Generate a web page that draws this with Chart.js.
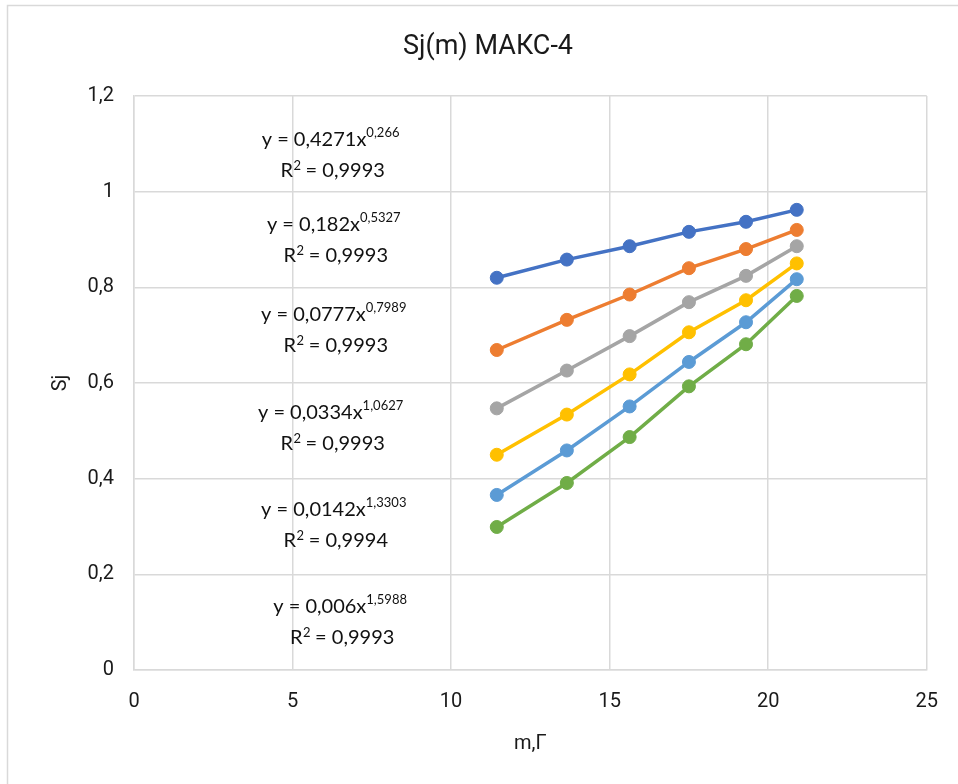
<!DOCTYPE html>
<html>
<head>
<meta charset="utf-8">
<script src="https://cdn.jsdelivr.net/npm/chart.js@4.4.1/dist/chart.umd.min.js"></script>
<style>
  html, body { margin: 0; padding: 0; background: #ffffff; }
  #wrap { width: 958px; height: 784px; position: relative; }
</style>
</head>
<body>
<div id="wrap"><canvas id="c" width="958" height="784"></canvas></div>
<script>
// ---- data ----
const masses = [11.44, 13.65, 15.63, 17.5, 19.3, 20.9];
const series1 = [0.820, 0.858, 0.886, 0.916, 0.937, 0.962];
const series2 = [0.669, 0.732, 0.785, 0.840, 0.880, 0.920];
const series3 = [0.547, 0.626, 0.698, 0.769, 0.824, 0.886];
const series4 = [0.450, 0.534, 0.618, 0.706, 0.773, 0.850];
const series5 = [0.366, 0.459, 0.551, 0.644, 0.727, 0.817];
const series6 = [0.299, 0.391, 0.487, 0.593, 0.681, 0.782];
const seriesColors = ['#4472C4', '#ED7D31', '#A5A5A5', '#FFC000', '#5B9BD5', '#70AD47'];

const chartTitle = 'Sj(m) МАКС-4';
const xAxisTitle = 'm,Г';
const yAxisTitle = 'Sj';

// trendline equation labels: coefficient text, exponent text, R² text
const eqCoef = ['0,4271', '0,182', '0,0777', '0,0334', '0,0142', '0,006'];
const eqExp = ['0,266', '0,5327', '0,7989', '1,0627', '1,3303', '1,5988'];
const eqR2 = ['0,9993', '0,9993', '0,9993', '0,9993', '0,9994', '0,9993'];
// label anchors in data units (centre of the equation line)
const eqAnchorX = [6.2, 6.3, 6.3, 6.2, 6.3, 6.5];
const eqAnchorY = [1.110, 0.932, 0.744, 0.539, 0.336, 0.133];

const allSeries = [series1, series2, series3, series4, series5, series6];

const datasets = allSeries.map((s, i) => ({
  label: 'S' + (i + 1),
  data: masses.map((m, k) => ({ x: m, y: s[k] })),
  borderColor: seriesColors[i],
  backgroundColor: seriesColors[i],
  borderWidth: 3.5,
  pointRadius: 6.5,
  pointHoverRadius: 6.5,
  pointBorderWidth: 1,
  pointBackgroundColor: seriesColors[i],
  pointBorderColor: seriesColors[i],
  tension: 0,
  fill: false
}));

const frameAndText = {
  id: 'frameAndText',
  beforeDraw(chart) {
    const ctx = chart.ctx;
    ctx.save();
    ctx.fillStyle = '#ffffff';
    ctx.fillRect(0, 0, chart.width, chart.height);
    ctx.strokeStyle = '#d9d9d9';
    ctx.lineWidth = 1.5;
    ctx.strokeRect(7.5, 5.5, 1200, 1200);
    // title
    ctx.fillStyle = '#1a1a1a';
    ctx.font = '27px Roboto';
    ctx.textAlign = 'center';
    ctx.textBaseline = 'middle';
    ctx.fillText(chartTitle, 488, 47);
    ctx.restore();
  },
  afterDatasetsDraw(chart) {
    const ctx = chart.ctx;
    const xs = chart.scales.x, ys = chart.scales.y;
    ctx.save();
    ctx.fillStyle = '#111111';
    ctx.textBaseline = 'alphabetic';
    const mainFont = '20px Lato';
    const supFont = '13px Lato';
    for (let i = 0; i < eqCoef.length; i++) {
      const cx = xs.getPixelForValue(eqAnchorX[i]);
      const cy = ys.getPixelForValue(eqAnchorY[i]);
      const base = 'y = ' + eqCoef[i] + 'x';
      ctx.font = mainFont;
      const wBase = ctx.measureText(base).width;
      ctx.font = supFont;
      const wExp = ctx.measureText(eqExp[i]).width;
      const total = wBase + wExp;
      let x0 = cx - total / 2;
      const by = cy + 7;
      ctx.textAlign = 'left';
      ctx.font = mainFont;
      ctx.fillText(base, x0, by);
      ctx.font = supFont;
      ctx.fillText(eqExp[i], x0 + wBase, by - 9);
      // R² line
      const r1 = 'R', r2 = ' = ' + eqR2[i];
      ctx.font = mainFont;
      const wR = ctx.measureText(r1).width;
      const wR2 = ctx.measureText(r2).width;
      ctx.font = supFont;
      const wSq = ctx.measureText('2').width;
      const tot2 = wR + wSq + wR2;
      let x1 = cx + 2 - tot2 / 2;
      const by2 = by + 31;
      ctx.font = mainFont;
      ctx.fillText(r1, x1, by2);
      ctx.font = supFont;
      ctx.fillText('2', x1 + wR + 0.5, by2 - 7);
      ctx.font = mainFont;
      ctx.fillText(r2, x1 + wR + wSq, by2);
    }
    ctx.restore();
  }
};

const fmt = v => String(Math.round(v * 10) / 10).replace('.', ',');

new Chart(document.getElementById('c'), {
  type: 'line',
  data: { datasets },
  options: {
    responsive: false,
    animation: false,
    layout: { padding: { left: 0, right: 31, top: 96, bottom: 0 } },
    plugins: { legend: { display: false }, title: { display: false }, tooltip: { enabled: false } },
    scales: {
      x: {
        type: 'linear',
        min: 0, max: 25,
        ticks: { stepSize: 5, padding: 20, color: '#1a1a1a', font: { family: 'Roboto', size: 20 } },
        grid: { color: '#d9d9d9', lineWidth: 1.5, drawTicks: false },
        border: { color: '#d9d9d9', width: 1.5 },
        title: { display: true, text: xAxisTitle, color: '#1a1a1a', font: { family: 'Roboto', size: 20 }, padding: { top: 0, bottom: 28 } },
        afterFit(scale) { scale.height = 114; }
      },
      y: {
        min: 0, max: 1.2,
        ticks: { stepSize: 0.2, padding: 20, color: '#1a1a1a', font: { family: 'Roboto', size: 20 }, callback: v => fmt(v) },
        grid: { color: '#d9d9d9', lineWidth: 1.5, drawTicks: false },
        border: { color: '#d9d9d9', width: 1.5 },
        title: { display: true, text: yAxisTitle, color: '#1a1a1a', font: { family: 'Roboto', size: 20 }, padding: { top: 49, bottom: 0 } },
        afterFit(scale) { scale.width = 134; }
      }
    }
  },
  plugins: [frameAndText]
});
</script>
</body>
</html>
